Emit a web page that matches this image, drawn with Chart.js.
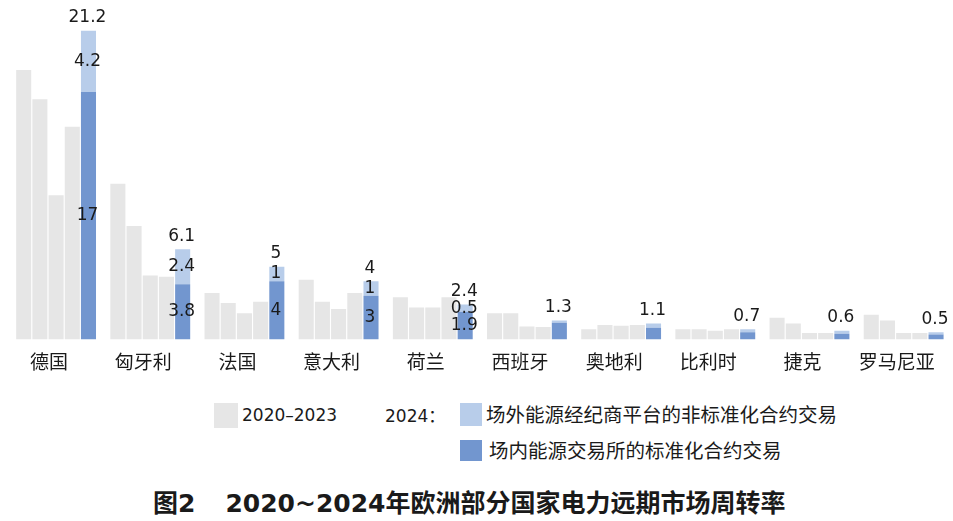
<!DOCTYPE html>
<html>
<head>
<meta charset="utf-8">
<script src="https://cdn.jsdelivr.net/npm/chart.js@4/dist/chart.umd.min.js"></script>
<style>
  body { margin: 0; background: #fff; width: 953px; height: 521px; overflow: hidden; position: relative; }
  #wrap { position: absolute; left: 0; top: 0; width: 953px; height: 385px; }
  .lg { position: absolute; color: #1a1a1a; white-space: nowrap; font-family: "DejaVu Sans", "Noto Sans CJK SC", sans-serif; }
  .sw { position: absolute; }
  .cjk { font-family: "Noto Sans CJK SC", sans-serif; font-size: 19.5px; line-height: 24px; }
  .num { font-size: 17px; line-height: 24px; }
  #title { position: absolute; left: 153px; top: 486px; font-size: 25px; line-height: 30px; font-weight: bold; color: #1a1a1a;
           font-family: "DejaVu Sans", "Noto Sans CJK SC", sans-serif; white-space: nowrap; }
</style>
</head>
<body>
<div id="wrap"><canvas id="turnover"></canvas></div>

<div class="sw" style="left:214px;top:403px;width:24px;height:25px;background:#e6e6e6"></div>
<div class="lg num" style="left:242px;top:403px">2020–2023</div>
<div class="lg num" style="left:385px;top:403px">2024<span style="font-family:'Noto Sans CJK SC'">：</span></div>
<div class="sw" style="left:460px;top:403px;width:22px;height:23px;background:#b8cdea"></div>
<div class="lg cjk" style="left:486px;top:402px">场外能源经纪商平台的非标准化合约交易</div>
<div class="sw" style="left:460px;top:440px;width:22px;height:21px;background:#7296cf"></div>
<div class="lg cjk" style="left:489px;top:438px">场内能源交易所的标准化合约交易</div>

<div id="title">图2<span style="display:inline-block;width:30px"></span>2020~2024<span style="font-family:'Noto Sans CJK SC'">年欧洲部分国家电力远期市场周转率</span></div>

<script>
// countries and turnover values
let countries = ['德国', '匈牙利', '法国', '意大利', '荷兰', '西班牙', '奥地利', '比利时', '捷克', '罗马尼亚']
let y2020 = [18.5, 10.7, 3.2, 4.1, 2.9, 1.8, 0.7, 0.7, 1.5, 1.7]
let y2021 = [16.5, 7.8, 2.5, 2.6, 2.2, 1.8, 1.0, 0.7, 1.1, 1.3]
let y2022 = [9.9, 4.4, 1.8, 2.1, 2.2, 0.9, 0.95, 0.6, 0.45, 0.45]
let y2023 = [14.6, 4.3, 2.6, 3.2, 2.9, 0.85, 1.0, 0.7, 0.45, 0.45]
// 2024: exchange (standardised) + OTC broker platforms
let exchange2024 = [17, 3.8, 4, 3, 1.9, 1.15, 0.8, 0.5, 0.4, 0.35]
let otc2024 = [4.2, 2.4, 1, 1, 0.5, 0.15, 0.3, 0.2, 0.2, 0.15]
let total2024 = [21.2, 6.1, 5, 4, 2.4, 1.3, 1.1, 0.7, 0.6, 0.5]

let grey = '#e6e6e6'
let lightBlue = '#b8cdea'
let darkBlue = '#7296cf'

function greySet(vals, stack) {
    return { data: vals, backgroundColor: grey, stack: stack }
}

// numbers on and inside the 2024 bars
let barLabels = {
    id: 'barLabels',
    afterDatasetsDraw(chart) {
        let ctx = chart.ctx
        let dark = chart.getDatasetMeta(4).data
        let light = chart.getDatasetMeta(5).data
        ctx.save()
        ctx.font = '17px "DejaVu Sans"'
        ctx.fillStyle = '#1a1a1a'
        ctx.textAlign = 'center'
        ctx.textBaseline = 'middle'
        for (let i = 0; i < countries.length; i++) {
            let d = dark[i], l = light[i]
            ctx.fillText(String(total2024[i]), l.x - 1, l.y - 13)
            if (total2024[i] >= 2) {
                ctx.fillText(String(otc2024[i]), l.x - 1, (l.y + l.base) / 2)
                ctx.fillText(String(exchange2024[i]), d.x - 1, (d.y + d.base) / 2)
            }
        }
        ctx.restore()
    }
}

let tctx = document.getElementById('turnover').getContext('2d')
let turnoverChart = new Chart(tctx, {
    type: 'bar',
    data: {
        labels: countries,
        datasets: [
            greySet(y2020, 'a'),
            greySet(y2021, 'b'),
            greySet(y2022, 'c'),
            greySet(y2023, 'd'),
            { data: exchange2024, backgroundColor: darkBlue, stack: 'e' },
            { data: otc2024, backgroundColor: lightBlue, stack: 'e' }
        ]
    },
    options: {
        responsive: true,
        maintainAspectRatio: false,
        animation: false,
        layout: { padding: { left: 9, right: 0, top: 4.5, bottom: 0 } },
        datasets: { bar: { categoryPercentage: 0.86, barPercentage: 0.93 } },
        plugins: { legend: { display: false }, tooltip: { enabled: false } },
        scales: {
            x: {
                stacked: true,
                grid: { display: false, drawTicks: false },
                border: { display: false },
                ticks: {
                    padding: 11.35,
                    labelOffset: -7,
                    color: '#1a1a1a',
                    font: { family: 'Noto Sans CJK SC', size: 19 }
                }
            },
            y: {
                stacked: true,
                display: false,
                min: 0,
                max: 23
            }
        }
    },
    plugins: [barLabels]
})
</script>
</body>
</html>
